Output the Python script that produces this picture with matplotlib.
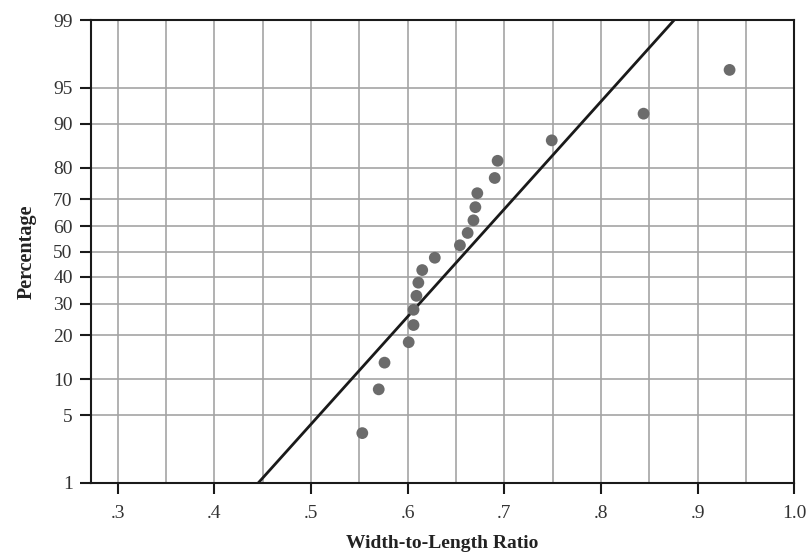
import numpy as np
import matplotlib
matplotlib.use("Agg")
import matplotlib.pyplot as plt
from statistics import NormalDist

# Data: width-to-length ratios (sorted) and their plotting percentages
ratios = [0.553, 0.570, 0.576, 0.601, 0.606, 0.606, 0.609, 0.611, 0.615, 0.628,
          0.654, 0.662, 0.668, 0.670, 0.672, 0.690, 0.693, 0.749, 0.844, 0.933]
percents = [3.4, 8.3, 13.2, 18.1, 23.0, 27.9, 32.8, 37.7, 42.6, 47.5,
            52.5, 57.4, 62.3, 67.2, 72.1, 77.0, 81.9, 86.8, 91.7, 96.6]
y_ticks = [1, 5, 10, 20, 30, 40, 50, 60, 70, 80, 90, 95, 99]
x_ticks = [0.3, 0.4, 0.5, 0.6, 0.7, 0.8, 0.9, 1.0]
x_tick_labels = [".3", ".4", ".5", ".6", ".7", ".8", ".9", "1.0"]
x_grid = [0.3, 0.35, 0.4, 0.45, 0.5, 0.55, 0.6, 0.65, 0.7, 0.75, 0.8, 0.85, 0.9, 0.95]
line_percents = [1, 99]

nd = NormalDist()

def _ppf_scalar(p):
    if p != p:
        return np.nan
    return nd.inv_cdf(min(max(p / 100.0, 1e-9), 1 - 1e-9))

def _cdf_scalar(z):
    if z != z:
        return np.nan
    return nd.cdf(z) * 100.0

_ppf = np.vectorize(_ppf_scalar, otypes=[float])
_cdf = np.vectorize(_cdf_scalar, otypes=[float])

def forward(p):
    return _ppf(np.asarray(p, dtype=float))

def inverse(z):
    return _cdf(np.asarray(z, dtype=float))

plt.rcParams['font.family'] = ['Liberation Serif', 'DejaVu Serif']

fig = plt.figure(figsize=(8.07, 5.56), dpi=100)
ax = fig.add_axes([0.1124, 0.1313, 0.8719, 0.8327])
ax.set_yscale('function', functions=(forward, inverse))

grid_c = '#a4a4a4'
for gx in x_grid:
    ax.axvline(gx, color=grid_c, lw=1.2, zorder=1)
for gy in y_ticks[1:-1]:
    ax.axhline(gy, color=grid_c, lw=1.2, zorder=1)

mean = np.mean(ratios)
sd = np.std(ratios, ddof=1)
line_x = [mean + sd * nd.inv_cdf(p / 100.0) for p in line_percents]
ax.plot(line_x, line_percents, color='#1a1a1a', lw=2.0, zorder=3, solid_capstyle='butt')

ax.scatter(ratios, percents, s=72, color='#6b6b6b', edgecolors='none', zorder=4)

ax.set_xlim(0.272, 1.0)
ax.set_ylim(1, 99)
ax.set_xticks(x_ticks)
ax.set_xticklabels(x_tick_labels)
ax.set_yticks(y_ticks)
ax.set_yticklabels([str(t) for t in y_ticks])
ax.minorticks_off()
ax.tick_params(axis='both', direction='out', length=8, width=1.5, color='#1a1a1a',
               labelsize=14, labelcolor='#333333', pad=5)
ax.tick_params(axis='x', pad=8)

for s in ax.spines.values():
    s.set_color('#1a1a1a')
    s.set_linewidth(1.5)

ax.set_xlabel('Width-to-Length Ratio', fontsize=14, fontweight='bold', color='#222222', labelpad=9)
ax.set_ylabel('Percentage', fontsize=14.5, fontweight='bold', color='#222222', labelpad=12)

fig.savefig('out.png', dpi=100)
